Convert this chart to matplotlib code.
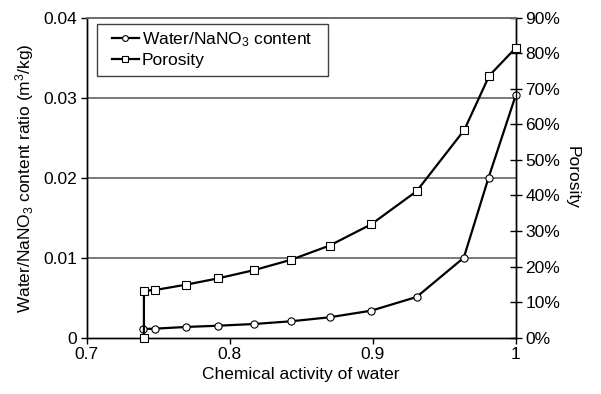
import matplotlib
matplotlib.use('Agg')
import matplotlib.pyplot as plt
from matplotlib.patches import Rectangle
from matplotlib.ticker import PercentFormatter, FixedLocator

plt.rcParams['font.family'] = ['Liberation Sans', 'DejaVu Sans']
plt.rcParams['mathtext.default'] = 'regular'

# water activity vs water/NaNO3 content ratio (m3/kg)
aw_water = [0.7395, 0.7477, 0.7693, 0.792, 0.817, 0.8428, 0.8698, 0.899, 0.9307, 0.9637, 0.981, 1.0]
water_ratio = [0.00109, 0.00113, 0.00134, 0.0015, 0.00171, 0.00205, 0.00255, 0.00338, 0.00509, 0.0100, 0.0200, 0.0303]

# water activity vs porosity (fraction)
aw_por = [0.74, 0.74, 0.7477, 0.7693, 0.792, 0.817, 0.8428, 0.8698, 0.899, 0.9307, 0.964, 0.9815, 1.0]
porosity = [0.0, 0.132, 0.134, 0.149, 0.167, 0.190, 0.219, 0.259, 0.319, 0.412, 0.584, 0.737, 0.815]

fs = 12.5

fig = plt.figure(figsize=(6.01, 3.94), dpi=100)
ax = fig.add_axes([0.1443, 0.1429, 0.7138, 0.8122])
ax2 = ax.twinx()

grid_c = '#6e6e6e'
for y in [0.01, 0.02, 0.03]:
    ax.axhline(y, color=grid_c, lw=1.3, zorder=0)

l1, = ax.plot(aw_water, water_ratio, '-o', color='black', lw=1.6, ms=5.2,
              mfc='white', mec='black', mew=0.8, label='Water/NaNO$_3$ content',
              clip_on=False, zorder=3)
l2, = ax2.plot(aw_por, porosity, '-s', color='black', lw=1.6, ms=5.5,
               mfc='white', mec='black', mew=0.8, label='Porosity',
               clip_on=False, zorder=3)

ax.set_xlim(0.7, 1.0)
ax.set_ylim(0, 0.04)
ax2.set_ylim(0, 0.9)

ax.set_xticks([0.7, 0.8, 0.9, 1.0])
ax.set_xticklabels(['0.7', '0.8', '0.9', '1'])
ax.set_yticks([0, 0.01, 0.02, 0.03, 0.04])
ax.set_yticklabels(['0', '0.01', '0.02', '0.03', '0.04'])
ax2.yaxis.set_major_locator(FixedLocator([i / 10 for i in range(10)]))
ax2.yaxis.set_major_formatter(PercentFormatter(1.0, decimals=0))

for a in (ax, ax2):
    a.spines['top'].set_color(grid_c)
    a.spines['top'].set_linewidth(1.3)
    for s in ['left', 'right', 'bottom']:
        a.spines[s].set_linewidth(1.0)
ax.tick_params(axis='both', direction='out', length=4, width=1, labelsize=fs, pad=3)
ax2.tick_params(axis='y', direction='inout', length=8, width=1, labelsize=fs, pad=3)

ax.set_xlabel('Chemical activity of water', fontsize=fs, labelpad=3)
ax.set_ylabel('Water/NaNO$_3$ content ratio (m$^3$/kg)', fontsize=fs, labelpad=5)
ax2.set_ylabel('Porosity', fontsize=fs, rotation=-90, labelpad=14)

# legend without its own frame; a plain box is drawn around it
leg = ax2.legend(handles=[l1, l2], loc='upper left', bbox_to_anchor=(0.058, 0.962),
                 borderaxespad=0, frameon=False, fontsize=fs,
                 handlelength=1.6, handletextpad=0.15,
                 labelspacing=0.25, borderpad=0, markerscale=0.8)
ax2.add_patch(Rectangle((0.0247, 0.819), 0.5378, 0.160, transform=ax2.transAxes,
                        fill=True, facecolor='white', edgecolor='#404040',
                        lw=1.0, zorder=4))
leg.set_zorder(5)

fig.savefig('out.png', dpi=100)
